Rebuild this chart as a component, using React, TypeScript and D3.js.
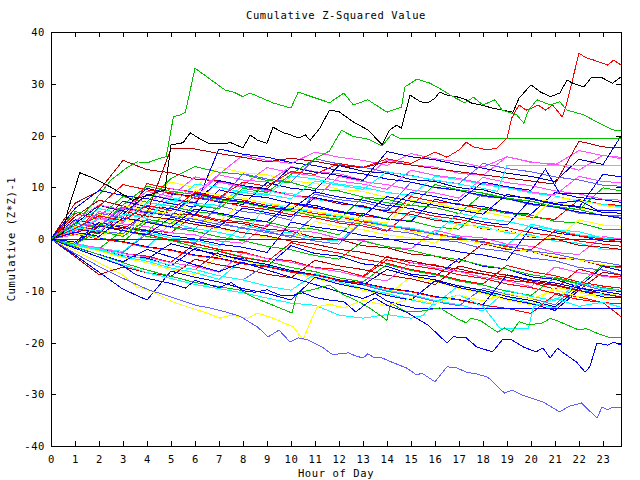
import * as d3 from "d3";
import { useEffect, useRef } from "react";

// labels
const title = "Cumulative Z-Squared Value";
const xLabel = "Hour of Day";
const yLabel = "Cumulative (Z*Z)-1";

const hourTicks = [0, 1, 2, 3, 4, 5, 6, 7, 8, 9, 10, 11, 12, 13, 14, 15, 16, 17, 18, 19, 20, 21, 22, 23];
const valueTicks = [-40, -30, -20, -10, 0, 10, 20, 30, 40];

// sample hours for the plain walks (one value per hour, last one at the right edge)
const hours = [0, 1, 2, 3, 4, 5, 6, 7, 8, 9, 10, 11, 12, 13, 14, 15, 16, 17, 18, 19, 20, 21, 22, 23, 23.75];

const RED = "#ff0000", GREEN = "#00c000", BLUE = "#0000ff", MAGENTA = "#ff50ff", CYAN = "#00ffff";
const DARKRED = "#b00000", YELLOW = "#ffff00", BLACK = "#000000", SLATE = "#6060ff", NAVY = "#0000b0";

// plain walks, read roughly per hour
const r1 = [0, 1.6, 3.1, 2.5, 1.7, 1.2, 4.8, 3.7, 3.3, 2.4, 6.9, 5.9, 5.4, 4.5, 3.9, 8.2, 7.2, 6.8, 5.7, 5.3, 4.2, 3.8, 7.6, 6.7, 6.5];
const g1 = [0, -0.7, 2.8, 2.2, 1.3, 6.3, 5.3, 4.8, 3.7, 3.3, 2.2, 1.9, 0.8, 4.9, 3.9, 3.5, 2.3, 1.9, 6.0, 4.9, 4.6, 3.4, 3.1, 1.9, 1.8];
const b1 = [0, 3.7, 2.7, 7.3, 6.3, 5.9, 4.7, 9.5, 8.5, 8.0, 6.9, 6.5, 5.3, 4.9, 3.8, 3.4, 7.7, 6.6, 6.3, 5.1, 4.8, 9.0, 8.0, 7.6, 7.1];
const m1 = [0, 2.2, 1.3, 5.9, 4.9, 9.0, 8.0, 12.4, 11.4, 11.0, 14.0, 13.0, 12.6, 11.4, 15.3, 14.3, 13.9, 12.7, 12.3, 15.9, 14.8, 14.5, 13.3, 16.2, 15.5];
const c1 = [0, -0.8, -1.8, -2.4, 1.3, 0.2, -0.3, -1.4, 2.7, 1.6, 1.2, 0.0, -0.4, 3.5, 2.4, 2.0, 0.8, 0.4, -0.8, -1.2, 2.9, 1.8, 1.4, 0.2, 0.1];
const dr1 = [0, 4.3, 7.5, 6.4, 6.0, 4.9, 4.6, 3.4, 3.0, 1.9, 1.5, 0.3, -0.1, -1.3, -1.7, -2.9, -3.3, -4.5, -0.9, -2.0, -2.4, -3.6, -4.0, -5.2, -5.3];
const y1 = [0, 1.9, 4.7, 3.7, 7.9, 11.0, 9.9, 13.9, 12.8, 12.4, 11.2, 10.8, 9.6, 9.2, 8.0, 7.6, 6.4, 6.0, 4.8, 8.7, 7.6, 7.2, 6.0, 5.6, 4.9];
const s1 = [0, -0.9, -2.1, -2.6, 1.0, -0.2, -0.7, 3.2, 2.0, 1.5, 0.3, 4.6, 3.4, 2.9, 1.7, 1.1, -0.1, -0.6, -1.9, -2.4, -3.7, -4.2, -5.5, -6.0, -6.9];
const r2 = [0, -1.0, -1.7, -2.8, -3.3, -4.5, -0.9, -2.1, -2.5, -3.8, -4.2, -5.5, -5.9, -7.2, -3.4, -4.6, -5.0, -6.3, -6.7, -8.0, -8.4, -9.7, -5.8, -7.1, -7.3];
const g2 = [0, 5.3, 4.3, 8.2, 7.1, 11.7, 14.0, 12.9, 12.5, 11.3, 10.9, 9.7, 9.3, 8.1, 7.7, 6.5, 6.1, 4.9, 8.8, 7.7, 7.3, 6.1, 5.7, 4.5, 4.5];
const b2 = [0, -1.1, -1.8, -3.2, -3.7, -5.2, -1.8, -3.3, -3.8, -5.3, -1.3, -2.8, -3.3, -4.8, -5.3, -6.8, -7.3, -3.8, -5.3, -5.8, -7.3, -7.8, -9.3, -5.3, -6.1];
const m2 = [0, 1.0, 3.9, 2.9, 2.4, 1.2, 0.8, -0.4, -0.8, 2.8, 1.7, 1.3, 0.1, -0.3, -1.5, -1.9, 1.7, 0.6, 0.2, -1.0, -1.4, -2.6, -3.0, 0.5, 0.0];
const c2 = [0, 2.6, 5.9, 4.8, 4.4, 8.0, 6.9, 6.5, 10.3, 9.2, 8.8, 7.6, 7.2, 6.0, 5.6, 4.4, 4.0, 2.8, 2.4, 1.2, 0.8, -0.4, -0.8, -2.0, -2.1];
const dr2 = [0, 6.9, 9.3, 15.2, 13.4, 12.8, 11.6, 11.2, 10.0, 9.6, 8.4, 8.0, 6.8, 6.4, 5.2, 4.8, 3.6, 3.2, 2.0, 1.6, 0.4, 0.0, -1.2, -1.6, -2.0];
const dr3 = [0, 1.2, 2.5, 1.9, 5.0, 17.5, 17.4, 16.5, 15.8, 14.9, 15.6, 15.0, 14.2, 13.8, 14.9, 14.3, 13.6, 13.0, 12.4, 11.8, 11.2, 10.6, 18.9, 17.8, 17.6];
const y2 = [0, -1.3, -2.3, -3.6, -4.6, -5.9, -6.9, -3.2, -4.1, -5.4, -6.4, -7.7, -8.6, -9.9, -10.9, -7.3, -8.2, -9.5, -10.5, -11.8, -12.7, -9.3, -10.2, -11.5, -11.8];
const s2 = [0, 1.7, 5.0, 4.0, 3.5, 2.3, 1.9, 6.4, 5.3, 4.8, 3.6, 8.7, 7.6, 7.1, 5.9, 11.0, 9.9, 9.4, 8.2, 7.8, 6.6, 6.2, 5.0, 4.6, 4.2];
const n1 = [0, 2.9, 6.5, 5.4, 9.8, 8.7, 8.3, 7.1, 6.7, 10.9, 9.8, 9.4, 14.2, 13.1, 12.7, 11.5, 11.1, 9.9, 9.5, 8.3, 7.9, 6.7, 6.3, 5.1, 5.0];
const r3 = [0, -1.2, 2.7, 1.6, 0.9, -0.2, -0.9, -2.0, -2.7, -3.8, -4.5, -5.6, -6.3, -7.4, -4.0, -5.1, -5.8, -6.9, -7.6, -8.7, -9.4, -10.5, -11.2, -12.3, -12.5];
const g3 = [0, -1.1, -1.9, 1.7, 0.5, -0.3, -1.5, -2.3, -3.5, -4.3, -5.5, -6.3, -7.5, -8.3, -4.9, -6.1, -6.9, -8.1, -8.9, -10.1, -10.9, -7.4, -8.6, -9.4, -9.9];
const b3 = [0, -0.7, 3.2, 2.2, 1.6, 0.6, 0.0, -1.0, -1.6, -2.6, 3.3, 2.3, 1.7, 0.7, 0.1, -0.9, -1.5, -2.5, -3.1, -4.1, 2.2, 1.2, 0.6, -0.4, -0.5];
const m3 = [0, 3.5, 6.6, 5.6, 9.2, 8.2, 12.0, 11.0, 10.4, 13.8, 12.8, 12.2, 11.2, 10.6, 9.6, 13.3, 12.3, 11.7, 10.7, 10.1, 9.1, 8.5, 12.1, 11.1, 10.9];
const c3 = [0, -1.2, -2.1, -3.4, -4.3, -5.6, -6.5, -7.8, -3.9, -5.2, -6.1, -7.4, -8.3, -9.6, -10.5, -11.8, -12.7, -8.9, -10.2, -11.1, -12.4, -13.3, -9.5, -10.8, -11.1];
const dr4 = [0, -3.4, -6.9, -5.4, -6.5, -7.2, -3.9, -5.0, -5.7, -6.8, -7.5, -4.1, -5.2, -5.9, -7.0, -7.7, -8.8, -5.2, -6.3, -7.0, -8.1, -8.8, -9.9, -6.4, -7.0];
const y3 = [0, 2.4, 1.4, 0.8, 4.5, 3.5, 2.9, 1.9, 1.3, 0.3, -0.3, 3.4, 2.4, 1.8, 0.8, 0.2, -0.8, 3.1, 2.1, 1.5, 0.5, -0.1, 3.7, 2.7, 2.5];
const r4 = [0, 4.9, 3.9, 3.3, 10.7, 9.7, 9.1, 8.1, 7.5, 6.5, 5.9, 4.9, 4.3, 3.3, 2.7, 1.7, 1.1, 0.1, -0.5, -1.5, -2.1, 1.6, 0.6, 0.0, -0.6];
const b4 = [0, 5.9, 9.4, 8.4, 7.8, 6.8, 6.2, 17.4, 16.4, 15.8, 14.8, 14.2, 13.2, 12.6, 11.6, 11.0, 10.0, 9.4, 8.4, 7.8, 6.8, 6.2, 5.2, 4.6, 4.0];
const s3 = [0, -1.1, -1.9, -3.1, -3.9, -5.1, -5.9, -7.1, -7.9, -4.9, -6.1, -6.9, -8.1, -8.9, -10.1, -10.9, -12.1, -12.9, -9.5, -10.7, -11.5, -12.7, -8.7, -9.9, -10.1];
const g4 = [0, 1.3, 0.2, -0.5, 3.3, 2.2, 1.5, 0.4, -0.3, -1.4, -2.1, -3.2, -3.9, -0.4, -1.5, -2.2, -3.3, -4.0, -5.1, -5.8, -6.9, -7.6, -8.7, -5.0, -5.6];
const r5 = [0, 0.9, 6.3, 10.5, 9.5, 8.9, 7.9, 7.3, 6.3, 5.7, 4.7, 4.1, 3.1, 2.5, 1.5, 5.4, 4.4, 3.8, 2.8, 2.2, 1.2, 0.6, -0.4, -1.0, -1.4];
const c4 = [0, 1.2, 0.1, -0.6, -1.7, 3.1, 2.0, 1.3, 0.2, 6.9, 5.8, 5.3, 4.3, 3.7, 2.7, 2.1, 1.1, 5.0, 4.0, 3.4, 2.4, 1.8, 0.8, 0.2, -0.2];
const m4 = [0, -1.0, -1.7, -2.8, -3.5, -4.6, -5.3, -6.4, -2.7, -3.8, -4.5, -5.6, -6.3, -7.4, -8.1, -4.5, -5.6, -6.3, -7.4, -8.1, -9.2, -5.4, -6.5, -7.2, -7.6];
const b5 = [0, -3.1, -6.4, -9.7, -11.8, -6.2, -7.4, -8.3, -9.6, -10.5, -11.8, -7.4, -8.7, -9.6, -10.9, -11.8, -8.1, -9.4, -10.3, -11.6, -12.5, -13.8, -9.9, -11.2, -11.4];
const dr5 = [0, 2.1, 1.0, 5.4, 4.4, 3.8, 2.8, 2.2, 1.2, 0.6, -0.4, -1.0, -2.0, -2.6, -3.6, -4.2, -5.2, -5.8, -6.8, -7.4, -8.4, -9.0, -10.0, -10.6, -11.2];
const y4 = [0, -0.8, 2.9, 6.5, 5.5, 4.9, 3.9, 3.3, 7.2, 6.2, 5.6, 4.6, 4.0, 3.0, 2.4, 1.4, 0.8, -0.2, -0.8, -1.8, -2.4, -3.4, -4.0, -5.0, -5.2];
const n2 = [0, -1.1, -1.9, -3.1, -3.9, -0.9, -2.1, -2.9, -4.1, -4.9, -6.1, -6.9, -8.1, -8.9, -5.9, -7.1, -7.9, -9.1, -9.9, -11.1, -11.9, -13.1, -9.4, -10.6, -10.9];
const r6 = [0, -1.1, -1.9, -3.1, -3.9, -5.1, -5.9, -2.4, -3.6, -4.4, -0.7, -1.9, -2.7, -3.9, -4.7, -5.9, -6.7, -7.9, -8.7, -5.1, -6.3, -7.1, -8.3, -9.1, -9.5];
const g5 = [0, 3.1, 2.1, 6.6, 10.2, 9.2, 8.6, 7.6, 7.0, 6.0, 5.4, 4.4, 3.8, 8.0, 7.0, 6.4, 10.5, 9.5, 8.9, 7.9, 7.3, 6.3, 5.7, 9.9, 9.3];
const m5 = [0, 1.5, 5.3, 4.3, 8.7, 7.7, 7.1, 11.0, 10.0, 9.4, 8.4, 7.8, 12.1, 11.1, 10.5, 9.5, 8.9, 7.9, 11.9, 10.9, 10.3, 9.3, 8.7, 7.7, 7.5];
const c5 = [0, -1.1, -1.9, -3.1, -3.9, -5.1, -5.9, -7.1, -7.9, -9.1, -9.9, -6.7, -7.9, -8.7, -9.9, -10.7, -11.9, -12.7, -13.9, -9.9, -11.1, -11.9, -8.4, -9.6, -9.9];
const s4 = [0, 2.6, 1.6, 1.0, 5.4, 4.4, 3.8, 2.8, 2.2, 1.2, 0.6, -0.4, -1.0, 3.5, 2.5, 1.9, 0.9, 0.3, -0.7, -1.3, -2.3, -2.9, -3.9, -4.5, -5.1];
const b6 = [0, 1.1, 0.1, -0.5, -1.5, -2.1, -3.1, -3.7, -4.7, -5.3, -6.3, -6.9, -7.9, -8.5, -9.5, -10.1, -11.1, -11.7, -12.7, -6.9, -7.9, -8.5, -9.5, -10.1, -10.7];
const r7 = [0, 1.0, 0.0, -0.6, -1.6, -2.2, -3.2, -3.8, -4.8, -5.4, -6.4, -7.0, -8.0, -8.6, -9.6, -10.2, -11.2, -11.8, -12.8, -13.4, -14.4, -10.7, -11.7, -12.3, -15.0];
const m6 = [0, 0.8, 4.2, 3.2, 6.9, 9.8, 8.8, 12.5, 16.2, 15.2, 14.6, 16.8, 15.8, 15.2, 14.2, 16.5, 15.5, 14.9, 13.9, 15.9, 14.9, 14.3, 17.1, 16.1, 15.8];
const n3 = [0, 2.2, 1.2, 4.8, 8.6, 7.6, 7.0, 11.3, 10.3, 9.7, 13.9, 12.9, 12.3, 11.3, 16.9, 15.9, 15.3, 14.3, 13.7, 12.7, 12.1, 11.1, 15.4, 14.4, 19.9];
const b7 = [0, -0.6, 2.4, 6.1, 5.1, 4.5, 8.8, 7.8, 7.2, 6.2, 5.6, 9.1, 8.1, 7.5, 6.5, 5.9, 4.9, 4.3, 3.3, 2.7, 7.7, 6.7, 6.1, 12.5, 12.0];
const c6 = [0, 1.8, 3.9, 3.3, 7.0, 6.4, 10.6, 10.0, 9.0, 8.4, 12.2, 11.6, 10.6, 10.0, 9.0, 8.4, 12.1, 11.5, 10.5, 9.9, 8.9, 8.3, 7.3, 6.7, 6.2];
const y5 = [0, 1.1, 0.1, 3.8, 3.2, 2.2, 9.5, 8.5, 7.9, 6.9, 6.3, 5.3, 4.7, 3.7, 3.1, 7.5, 6.9, 5.9, 5.3, 4.3, 3.7, 8.1, 7.5, 6.5, 6.0];
const s5 = [0, 3.0, 2.4, 6.2, 5.2, 4.6, 8.3, 7.3, 12.6, 11.6, 11.0, 15.5, 14.5, 13.9, 12.9, 12.3, 11.3, 10.7, 14.6, 13.6, 13.0, 12.0, 11.4, 10.4, 10.2];

// traced walks as [hour, value] pairs
const topGreen = [[0, 0], [0.5, 1.5], [1, 3], [1.5, 5.5], [2, 8.5], [2.5, 11.4], [3.2, 13.9], [3.6, 14.9], [4, 14.7], [4.4, 15.4], [4.8, 15.9], [5.1, 23.6], [5.4, 24], [5.6, 24.5], [6, 33], [7.25, 28.8], [7.6, 28.4], [8, 27.5], [8.3, 28.2], [9.25, 26.3], [10, 25.3], [10.3, 28.4], [10.6, 27.9], [11.5, 26.5], [11.6, 26.3], [12.2, 28.2], [12.6, 25.9], [13.2, 26.9], [14, 24.5], [14.6, 25.5], [14.75, 29.4], [15.25, 30.9], [15.8, 30.1], [16.3, 28.8], [16.75, 27.5], [17.25, 26.3], [17.6, 27.4], [18, 25.9], [18.5, 26.9], [18.8, 24.9], [19.4, 24], [19.7, 22.4], [19.9, 24.9], [20.25, 26.9], [20.8, 25.9], [21.2, 26.5], [21.5, 24.9], [22.2, 24], [22.75, 22.6], [23.4, 21.1], [23.75, 20.9]];
const topBlack = [[0, 0], [0.5, 1.2], [0.7, 5.5], [1.2, 12.8], [1.75, 11.8], [2.5, 10], [3.4, 7.5], [4, 8.4], [4.75, 9.5], [5, 18.2], [5.5, 18.6], [5.8, 20.5], [6.3, 19.1], [6.55, 18.5], [7, 18.4], [7.5, 18.6], [8, 17.6], [8.3, 20.1], [8.6, 19.1], [9, 18.5], [9.25, 21.6], [9.7, 20.5], [10, 20.1], [10.3, 19.5], [10.6, 20.1], [10.8, 19.1], [11.2, 21.4], [11.6, 24.9], [12, 24.6], [12.6, 22.6], [13.2, 21.1], [13.8, 18.2], [14.1, 21], [14.4, 22], [14.6, 21.4], [14.96, 27.8], [15.4, 26.5], [15.7, 26.3], [16, 27.2], [16.2, 28.4], [16.5, 27.8], [16.9, 27.5], [17.3, 26.9], [17.5, 26.3], [17.9, 25.9], [18.4, 25.3], [18.8, 24.9], [19.25, 24.5], [19.5, 27.2], [20, 29.8], [20.4, 28.4], [20.8, 27.5], [21.2, 28.2], [21.5, 30.7], [21.75, 30.1], [22.2, 29.4], [22.5, 31.1], [22.9, 31.3], [23.4, 30.1], [23.75, 31.3]];
const topRed = [[0, 0], [1, 2], [2, 4.5], [3, 3.5], [4, 6.5], [5, 5.5], [6, 9], [7, 8], [8, 11], [9, 10.2], [10, 13], [11, 12.5], [12, 14.6], [13, 13.8], [14, 15.5], [15, 14.6], [16, 16.8], [16.5, 15.8], [17, 17.2], [17.3, 18.7], [17.6, 17.8], [18.2, 17.2], [18.6, 17.6], [19, 19.5], [19.2, 23.4], [19.5, 25.9], [19.8, 24.9], [20.05, 25.3], [20.3, 25.9], [20.6, 24.9], [20.9, 25.9], [21.3, 23.6], [21.45, 25.5], [22, 35.9], [22.3, 35], [22.6, 34.6], [23.2, 33.6], [23.45, 34.6], [23.75, 33.6]];
const lowSlate = [[0, 0], [1, -2.8], [2, -5.3], [3, -7.6], [4.1, -9.9], [4.6, -10.6], [5.4, -11.8], [6.1, -12.9], [6.6, -13.3], [7.3, -14.1], [7.9, -15], [8.6, -17], [9.05, -18.9], [9.5, -17.6], [9.96, -19.9], [10.3, -19.1], [10.7, -19.5], [11.3, -20.9], [11.75, -22.4], [12, -22.2], [12.4, -22], [12.7, -22.6], [13, -23], [13.2, -22.2], [13.5, -23], [13.7, -22.8], [14.2, -23.8], [14.8, -24.9], [15.25, -26.3], [15.45, -25.9], [16, -27.6], [16.5, -24.7], [16.9, -24.9], [17.3, -25.7], [17.75, -26.1], [18.2, -26.7], [18.9, -29.8], [19.2, -29.2], [19.6, -30.1], [20.5, -31.5], [21.2, -33.4], [21.6, -32.3], [22.1, -31.7], [22.75, -34.6], [22.96, -32.5], [23.2, -33], [23.4, -32.5], [23.75, -32.5]];
const lowBlue = [[0, 0], [1, -1.8], [2, -3.5], [3, -5.2], [3.5, -6.8], [4, -7.6], [5, -8.6], [5.6, -9.5], [6, -8], [7, -9.4], [7.5, -8.4], [8, -10], [8.5, -10.3], [9, -9.8], [9.5, -10.8], [10, -11], [10.5, -10.4], [11, -11.3], [11.6, -11.8], [12.2, -12.1], [12.7, -14.1], [13.1, -12.6], [13.5, -11.4], [14, -12.8], [14.8, -14.1], [15.7, -16.6], [16.5, -20.1], [16.75, -18.9], [17.3, -19.1], [17.75, -20.9], [18.4, -21.8], [18.8, -19.5], [19.2, -19.5], [19.7, -20.9], [20.2, -21.8], [20.5, -21.1], [20.8, -23], [21.1, -21.1], [21.35, -22], [21.9, -23.8], [22.25, -25.7], [22.45, -24.7], [22.75, -20.1], [23.2, -20.5], [23.45, -19.9], [23.75, -20.5]];
const lowYellow = [[0, 0], [1, -2.2], [2, -4.6], [3, -7], [3.6, -9.3], [4.1, -9.9], [5.1, -12.2], [5.8, -13.3], [6.5, -14.3], [7.04, -15.3], [7.5, -14.7], [8.2, -15.3], [8.6, -14.3], [9.25, -15.3], [10.1, -17], [10.5, -19.5], [10.9, -15], [11.1, -13.1], [11.6, -12.6], [12.2, -13.3], [13, -11.8], [14, -12.9], [15, -11.5], [16, -12.5], [17, -10.8], [18, -12], [19, -10.5], [20, -11.6], [21, -9.8], [22, -11.2], [23, -10.4], [23.75, -11]];
const lowGreen = [[0, 0], [1, -1.5], [2, -3], [3, -4.6], [4, -6], [5, -7.2], [6, -8.4], [7, -9.2], [7.9, -9.9], [8.4, -11.2], [9.25, -12.8], [10.04, -14.3], [10.25, -10.4], [10.8, -9.9], [11.6, -8.9], [12.2, -10.8], [12.6, -11.6], [13.2, -13.1], [14, -15.7], [14.15, -12.4], [14.5, -13.3], [14.8, -14.1], [15.25, -14.1], [16.2, -13.3], [16.9, -15.3], [17.3, -16.2], [17.5, -15.3], [17.9, -15.8], [18.6, -18], [18.9, -17.2], [19.2, -18], [19.5, -16], [19.9, -16.6], [20.5, -16.2], [20.8, -15.3], [21.2, -16], [21.7, -17], [22, -17.6], [22.3, -17.3], [22.75, -18.2], [23.3, -19.1], [23.75, -19.1]];
const lowCyan = [[0, 0], [2, -3.5], [4, -6.5], [6, -8.8], [8, -10.4], [10, -12.4], [11, -12.8], [12, -14.7], [13, -15.3], [14, -14.6], [15, -15.3], [15.5, -14.8], [16, -12], [17, -10.8], [18, -13], [18.7, -17.2], [19.5, -17.2], [19.9, -17.2], [20.1, -13.1], [21, -11.5], [22, -13], [23, -12.2], [23.75, -13.2]];

// walks that stop moving and run flat to the right edge
const flatGreen = [[0, 0], [1, -1], [2, 1.5], [3, 0.5], [4, 3.8], [5, 3], [6, 6.5], [7, 5.8], [8, 9.8], [9, 9], [10, 12.5], [11, 15.5], [11.6, 17], [12.1, 21], [12.6, 19.8], [13.2, 19.3], [13.8, 18], [14.2, 20.3], [14.5, 19.5], [23.75, 19.5]];
const flatCyan = [[0, 0], [1, 2.2], [2, 1.4], [3, 4.8], [4, 4], [5, 7.5], [6, 6.7], [7, 5.9], [8, 9.4], [9, 8.6], [10, 7.8], [11, 11.2], [12, 10.4], [13, 9.6], [14, 13], [15, 12.2], [16, 11.4], [17, 10.6], [18, 9.8], [18.6, 9.2], [19, 14.2], [23.75, 14.2]];
const flatBlueHigh = [[0, 0], [1, -1], [2, 2.5], [3, 1.6], [4, 0.8], [5, 4.2], [6, 3.3], [7, 2.4], [8, 6], [9, 5.1], [10, 4.3], [11, 8], [12, 7.1], [13, 6.2], [14, 5.4], [15, 9], [16, 8.2], [17, 7.3], [18, 11], [19, 10.1], [20, 9.4], [20.6, 13.5], [21.2, 8.8], [23.75, 8.8]];
const flatBlueMid = [[0, 0], [1, 1.3], [2, 0.5], [3, 4.1], [4, 3.2], [5, 2.3], [6, 5.8], [7, 5], [8, 4.1], [9, 3.3], [10, 7], [11, 6.1], [12, 5.2], [13, 4.4], [14, 8.2], [15, 7.3], [16, 6.5], [17, 5.6], [18, 4.8], [19, 8.6], [20, 7.7], [21, 6.9], [22, 7.4], [22.4, 6.5], [22.75, 5.6], [23.75, 5.6]];
const flatBlueLow = [[0, 0], [1, -1.6], [2, -3], [3, -4.4], [4, -2], [5, -3.5], [6, -5], [7, -6.3], [8, -4.5], [9, -6], [10, -7.4], [11, -8.8], [12, -10.2], [13, -11.5], [13.5, -10.5], [14, -12], [14.6, -12.8], [15.2, -13.4], [23.75, -13.4]];
const zeroLine = [[0, 0], [23.75, 0]];

const plainWalks = [
    { values: r1, color: RED }, { values: g1, color: GREEN }, { values: b1, color: BLUE }, { values: m1, color: MAGENTA },
    { values: c1, color: CYAN }, { values: dr1, color: DARKRED }, { values: y1, color: YELLOW }, { values: s1, color: SLATE },
    { values: r2, color: RED }, { values: g2, color: GREEN }, { values: b2, color: BLUE }, { values: m2, color: MAGENTA },
    { values: c2, color: CYAN }, { values: dr2, color: DARKRED }, { values: y2, color: YELLOW }, { values: s2, color: SLATE },
    { values: n1, color: NAVY }, { values: r3, color: RED }, { values: g3, color: GREEN }, { values: b3, color: BLUE },
    { values: m3, color: MAGENTA }, { values: c3, color: CYAN }, { values: dr4, color: DARKRED }, { values: y3, color: YELLOW },
    { values: r4, color: RED }, { values: b4, color: BLUE }, { values: s3, color: SLATE }, { values: g4, color: GREEN },
    { values: r5, color: RED }, { values: c4, color: CYAN }, { values: m4, color: MAGENTA }, { values: b5, color: BLUE },
    { values: dr5, color: DARKRED }, { values: y4, color: YELLOW }, { values: n2, color: NAVY }, { values: r6, color: RED },
    { values: g5, color: GREEN }, { values: m5, color: MAGENTA }, { values: c5, color: CYAN }, { values: s4, color: SLATE },
    { values: b6, color: BLUE }, { values: r7, color: RED }, { values: m6, color: MAGENTA }, { values: n3, color: NAVY },
    { values: b7, color: BLUE }, { values: c6, color: CYAN }, { values: y5, color: YELLOW }, { values: s5, color: SLATE },
    { values: dr3, color: DARKRED },
];

const tracedWalks = [
    { points: flatBlueLow, color: BLUE }, { points: flatBlueMid, color: BLUE }, { points: flatBlueHigh, color: BLUE },
    { points: flatCyan, color: CYAN }, { points: zeroLine, color: DARKRED }, { points: flatGreen, color: GREEN },
    { points: lowCyan, color: CYAN }, { points: lowGreen, color: GREEN }, { points: lowYellow, color: YELLOW },
    { points: lowBlue, color: BLUE }, { points: lowSlate, color: SLATE },
    { points: topRed, color: RED }, { points: topBlack, color: BLACK }, { points: topGreen, color: GREEN },
];

export default function App() {
    const svgRef = useRef<SVGSVGElement>(null);

    const width = 640;
    const height = 480;
    const margin = { top: 32, right: 19, bottom: 34, left: 51 };
    const font = "'DejaVu Sans Mono', 'Liberation Mono', monospace";

    useEffect(() => {
        const svg = d3.select(svgRef.current);
        svg.selectAll("*").remove();

        const x = d3.scaleLinear().domain([0, 23.75]).range([margin.left, width - margin.right]);
        const y = d3.scaleLinear().domain([-40, 40]).range([height - margin.bottom, margin.top]);

        svg.append("rect").attr("width", width).attr("height", height).attr("fill", "#fff");

        svg.append("clipPath").attr("id", "plot-clip")
            .append("rect")
            .attr("x", margin.left).attr("y", margin.top)
            .attr("width", width - margin.left - margin.right)
            .attr("height", height - margin.top - margin.bottom);

        const line = d3.line<number[]>().x(d => x(d[0])).y(d => y(d[1]));

        const lines = svg.append("g").attr("clip-path", "url(#plot-clip)")
            .attr("fill", "none").attr("stroke-width", 1).attr("shape-rendering", "crispEdges");

        lines.selectAll(".walk")
            .data(plainWalks)
            .enter().append("path")
            .classed("walk", true)
            .attr("stroke", d => d.color)
            .attr("d", d => line(d.values.map((v, i) => [hours[i], v])));

        lines.selectAll(".traced")
            .data(tracedWalks)
            .enter().append("path")
            .classed("traced", true)
            .attr("stroke", d => d.color)
            .attr("d", d => line(d.points));

        // frame with inward ticks on all four sides
        const frame = svg.append("g").attr("stroke", "#000").attr("shape-rendering", "crispEdges");
        const x0 = margin.left, x1 = width - margin.right, yTop = margin.top, yBot = height - margin.bottom;
        frame.append("rect")
            .attr("x", x0 + 0.5).attr("y", yTop + 0.5)
            .attr("width", x1 - x0).attr("height", yBot - yTop)
            .attr("fill", "none");

        hourTicks.forEach(h => {
            const px = Math.round(x(h)) + 0.5;
            frame.append("line").attr("x1", px).attr("x2", px).attr("y1", yBot).attr("y2", yBot - 5);
            frame.append("line").attr("x1", px).attr("x2", px).attr("y1", yTop).attr("y2", yTop + 5);
        });
        valueTicks.forEach(v => {
            const py = Math.round(y(v)) + 0.5;
            frame.append("line").attr("x1", x0).attr("x2", x0 + 5).attr("y1", py).attr("y2", py);
            frame.append("line").attr("x1", x1).attr("x2", x1 - 5).attr("y1", py).attr("y2", py);
        });

        const text = svg.append("g")
            .attr("font-family", font).attr("font-size", 10.5).attr("fill", "#000")
            .attr("letter-spacing", 0.6);

        text.selectAll(".xtick")
            .data(hourTicks)
            .enter().append("text")
            .attr("x", d => x(d) + 0.5)
            .attr("y", yBot + 17)
            .attr("text-anchor", "middle")
            .text(d => d);

        text.selectAll(".ytick")
            .data(valueTicks)
            .enter().append("text")
            .attr("x", x0 - 6)
            .attr("y", d => y(d) + 4)
            .attr("text-anchor", "end")
            .text(d => d);

        text.append("text").attr("x", (x0 + x1) / 2).attr("y", 19)
            .attr("text-anchor", "middle").text(title);
        text.append("text").attr("x", (x0 + x1) / 2).attr("y", 477)
            .attr("text-anchor", "middle").text(xLabel);
        text.append("text")
            .attr("transform", `translate(15,${(yTop + yBot) / 2}) rotate(-90)`)
            .attr("text-anchor", "middle").text(yLabel);

        return () => {};
    }, []);

    return (
        <div style={{ position: "absolute", left: 0, top: 0 }}>
            <svg ref={svgRef} width={width} height={height} style={{ display: "block" }}></svg>
        </div>
    );
}
